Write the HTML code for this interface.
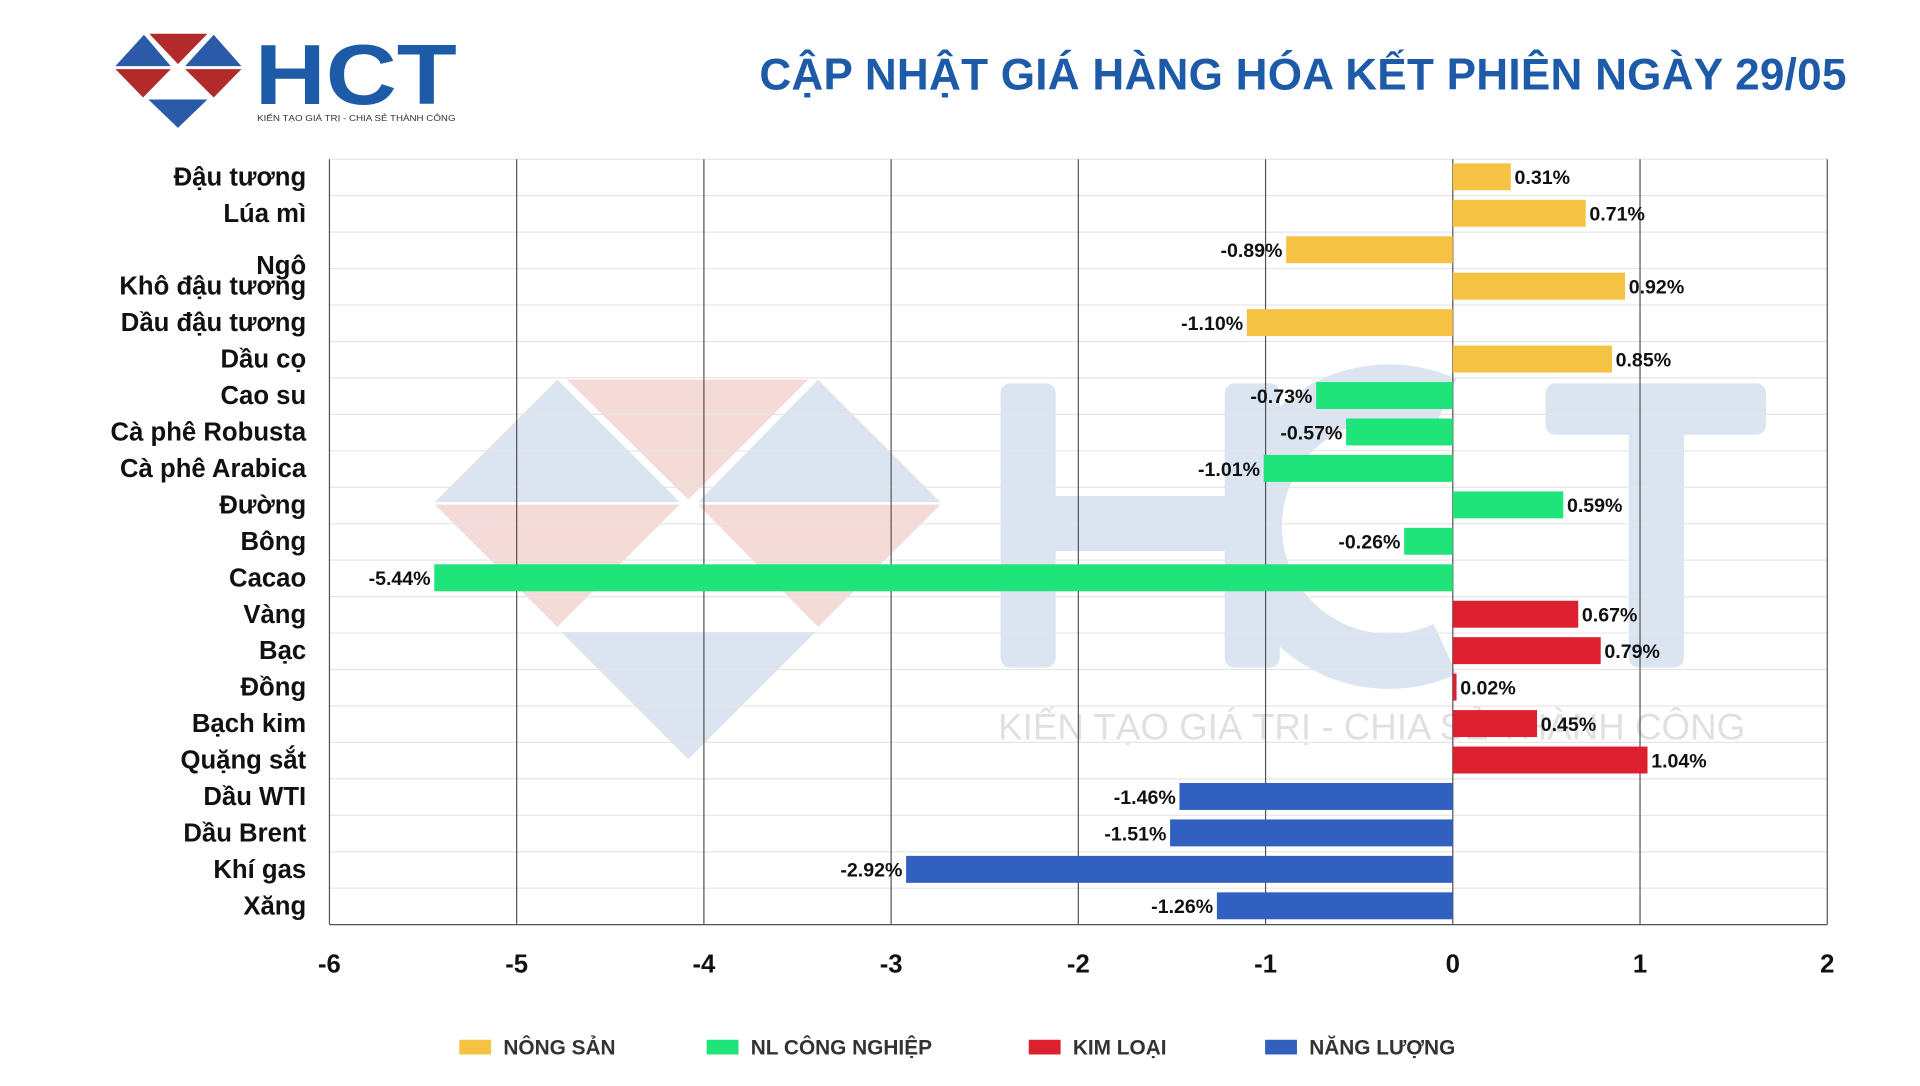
<!DOCTYPE html>
<html><head><meta charset="utf-8">
<style>
html,body{margin:0;padding:0;background:#fff;overflow:hidden;width:1920px;height:1080px}
#stage{position:absolute;left:0;top:0;width:1568px;height:882px;transform-origin:0 0;transform:scale(1.2247);font-family:"Liberation Sans",sans-serif}
.t{font-family:"Liberation Sans",sans-serif;font-weight:bold}
</style></head><body>
<div id="stage">
<svg id="svg" width="1568" height="882">
 <g opacity="0.18">
  <polygon points="355,410 455,310 555,410" fill="#3a6ab0"/>
  <polygon points="463,310 660,310 562,408" fill="#c0392b"/>
  <polygon points="570,410 668,310 768,410" fill="#3a6ab0"/>
  <polygon points="355,412 555,412 455,512" fill="#c0392b"/>
  <polygon points="570,412 768,412 668,512" fill="#c0392b"/>
  <polygon points="458,516 666,516 562,620" fill="#3a6ab0"/>
  <rect x="817" y="313" width="45" height="232" rx="8" fill="#3a6ab0"/>
  <rect x="1000" y="313" width="45" height="232" rx="8" fill="#3a6ab0"/>
  <rect x="817" y="405" width="228" height="45" fill="#3a6ab0"/>
  <rect x="1262" y="313" width="180" height="42" rx="8" fill="#3a6ab0"/>
  <rect x="1330" y="313" width="45" height="232" rx="8" fill="#3a6ab0"/>
  <path d="M1180 330 A110 110 0 1 0 1180 530" stroke="#3a6ab0" stroke-width="45" fill="none"/>
  <text x="815" y="604" font-size="30" fill="#555" font-family="Liberation Sans">KIẾN TẠO GIÁ TRỊ - CHIA SẺ THÀNH CÔNG</text>
 </g>
 <g id="grid"></g>
 <g id="bars"></g>
 <g id="labels"></g>
</svg>
<div style="position:absolute;left:90px;top:20px;width:290px;height:85px">
 <svg width="290" height="85">
  <g transform="translate(2,2) scale(0.73,0.8)">
  <polygon points="3,40 35,8 65,40" fill="#2a5aa8"/>
  <polygon points="41,7 106,7 73,38" fill="#b22a2a"/>
  <polygon points="81,40 113,8 144,40" fill="#2a5aa8"/>
  <polygon points="3,43 65,43 34,72" fill="#b22a2a"/>
  <polygon points="81,43 144,43 113,72" fill="#b22a2a"/>
  <polygon points="40,74 106,74 73,103" fill="#2a5aa8"/>
  </g>
  <text x="118" y="65" font-size="70" fill="#1d5ba8" class="t" textLength="165" lengthAdjust="spacingAndGlyphs">HCT</text>
  <text x="120" y="79" font-size="7" fill="#333" textLength="162" lengthAdjust="spacingAndGlyphs">KIẾN TẠO GIÁ TRỊ - CHIA SẺ THÀNH CÔNG</text>
 </svg>
</div>
<div class="t" style="position:absolute;left:620px;top:40px;font-size:36px;color:#1d5ba8;white-space:nowrap;letter-spacing:0.2px">CẬP NHẬT GIÁ HÀNG HÓA KẾT PHIÊN NGÀY 29/05</div>
<div style="position:absolute;top:846px;left:375px;font-size:17px;font-weight:bold;color:#333">
 <span style="position:absolute;left:0;white-space:nowrap"><i style="display:inline-block;width:26px;height:12px;background:#f6c244;margin-right:10px"></i>NÔNG SẢN</span>
 <span style="position:absolute;left:202px;white-space:nowrap"><i style="display:inline-block;width:26px;height:12px;background:#1fe47a;margin-right:10px"></i>NL CÔNG NGHIỆP</span>
 <span style="position:absolute;left:465px;white-space:nowrap"><i style="display:inline-block;width:26px;height:12px;background:#dc2030;margin-right:10px"></i>KIM LOẠI</span>
 <span style="position:absolute;left:658px;white-space:nowrap"><i style="display:inline-block;width:26px;height:12px;background:#3260c0;margin-right:10px"></i>NĂNG LƯỢNG</span>
</div>
</div>
<script>
const categories=["Đậu tương","Lúa mì","Ngô","Khô đậu tương","Dầu đậu tương","Dầu cọ","Cao su","Cà phê Robusta","Cà phê Arabica","Đường","Bông","Cacao","Vàng","Bạc","Đồng","Bạch kim","Quặng sắt","Dầu WTI","Dầu Brent","Khí gas","Xăng"];
const values=[0.31,0.71,-0.89,0.92,-1.10,0.85,-0.73,-0.57,-1.01,0.59,-0.26,-5.44,0.67,0.79,0.02,0.45,1.04,-1.46,-1.51,-2.92,-1.26];
const groups=[0,0,0,0,0,0,1,1,1,1,1,1,2,2,2,2,2,3,3,3,3];
const groupColors=["#f6c244","#1fe47a","#dc2030","#3260c0"];
const xTicks=[-6,-5,-4,-3,-2,-1,0,1,2];
const NS='http://www.w3.org/2000/svg';
const x0=269,x1=1492,yTop=130,yBot=755,dmin=-6,dmax=2;
const xs=v=>x0+(v-dmin)/(dmax-dmin)*(x1-x0);
const rowH=(yBot-yTop)/categories.length;
const yc=i=>yTop+rowH*(i+0.5)-0.5;
function mk(tag,attrs,parent){const e=document.createElementNS(NS,tag);for(const k in attrs)e.setAttribute(k,attrs[k]);parent.appendChild(e);return e;}
const grid=document.getElementById('grid'),bars=document.getElementById('bars'),labels=document.getElementById('labels');
for(let i=0;i<=categories.length;i++){const y=yTop+rowH*i;const l=mk('line',{x1:x0,x2:x1,y1:y,y2:y,stroke:'#e6e6e6','stroke-width':1},grid);

}
xTicks.forEach(t=>{const l=mk('line',{x1:xs(t),x2:xs(t),y1:yTop,y2:yBot,stroke:'#555','stroke-width':1},grid);


const tx=mk('text',{x:xs(t),y:794,'text-anchor':'middle','font-size':21,'font-weight':'bold',fill:'#111','font-family':'Liberation Sans'},labels);tx.textContent=t;

});
mk('line',{x1:x0,x2:x1,y1:yBot,y2:yBot,stroke:'#555'},grid);
categories.forEach((c,i)=>{const v=values[i];const y=yc(i);const a=xs(Math.min(0,v)),b=xs(Math.max(0,v));
const r=mk('rect',{x:a,y:y-11,width:Math.max(b-a,2),height:22,fill:groupColors[groups[i]]},bars);


const ly=(c==="Ngô")?y+20:y+7;
const lt=mk('text',{x:250,y:ly,'text-anchor':'end','font-size':21,'font-weight':'bold',fill:'#111','font-family':'Liberation Sans'},labels);lt.textContent=c;


const vt=mk('text',{x:v<0?a-3:b+3,y:y+6,'text-anchor':v<0?'end':'start','font-size':16,'font-weight':'bold',fill:'#111','font-family':'Liberation Sans'},labels);vt.textContent=v.toFixed(2)+'%';

});
</script>
</body></html>
